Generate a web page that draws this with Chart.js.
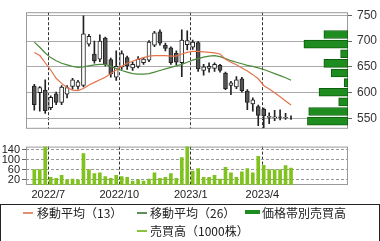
<!DOCTYPE html>
<html>
<head>
<meta charset="utf-8">
<script src="https://cdn.jsdelivr.net/npm/chart.js@4.4.1/dist/chart.umd.min.js"></script>
<style>
  body { margin: 0; background: #fff; }
  #wrap { position: relative; width: 380px; height: 241px; overflow: hidden; background: #fff;
          font-family: "Noto Sans CJK JP", sans-serif; color: #222; }
  canvas { position: absolute; left: 0; }
  #price, #profile { top: 0; }
  #vol { top: 138px; }
  #legend { position: absolute; left: 0; top: 204px; width: 380px; height: 45px;
            border: 1px solid #222; box-sizing: border-box; }
  .key { position: absolute; height: 2px; }
  .txt { position: absolute; font-size: 12px; line-height: 14px; white-space: nowrap; }
</style>
</head>
<body>
<div id="wrap">
  <canvas id="price" width="380" height="141"></canvas>
  <canvas id="profile" width="380" height="141"></canvas>
  <canvas id="vol" width="380" height="66"></canvas>
  <div id="legend"></div>
  <span class="key" style="left:23px;top:212px;width:10px;background:#e2906e"></span>
  <span class="txt" style="left:37px;top:206px">移動平均（13）</span>
  <span class="key" style="left:137px;top:212px;width:10px;background:#5f8f58"></span>
  <span class="txt" style="left:150px;top:206px">移動平均（26）</span>
  <span class="key" style="left:245px;top:210px;width:15px;height:4px;background:#1f8c1f"></span>
  <span class="txt" style="left:262px;top:206px">価格帯別売買高</span>
  <span class="key" style="left:137px;top:230px;width:10px;background:#88c43a"></span>
  <span class="txt" style="left:150px;top:224px">売買高（1000株）</span>
</div>
<script>
// weekly candles, week starting
const weeks = [
  '2022/06/13', '2022/06/20', '2022/06/27', '2022/07/04', '2022/07/11', '2022/07/18', '2022/07/25',
  '2022/08/01', '2022/08/08', '2022/08/15', '2022/08/22', '2022/08/29', '2022/09/05', '2022/09/12',
  '2022/09/19', '2022/09/26', '2022/10/03', '2022/10/10', '2022/10/17', '2022/10/24', '2022/10/31',
  '2022/11/07', '2022/11/14', '2022/11/21', '2022/11/28', '2022/12/05', '2022/12/12', '2022/12/19',
  '2022/12/26', '2023/01/02', '2023/01/09', '2023/01/16', '2023/01/23', '2023/01/30', '2023/02/06',
  '2023/02/13', '2023/02/20', '2023/02/27', '2023/03/06', '2023/03/13', '2023/03/20', '2023/03/27',
  '2023/04/03', '2023/04/10', '2023/04/17', '2023/04/24', '2023/05/01', '2023/05/08'
];
const open  = [613, 600, 605, 571, 598, 581, 597, 612, 612, 614, 694, 675, 665, 706, 664, 630,
               650, 668, 648, 651, 658, 663, 692, 718, 692, 687, 677, 658, 693, 688, 697, 643,
               647, 647, 653, 638, 614, 611, 627, 603, 578, 573, 568, 552, 551, 553, 551, 551];
const high  = [616, 612, 625, 594, 601, 614, 614, 628, 624, 749, 713, 700, 712, 708, 667, 681,
               681, 671, 660, 670, 668, 701, 719, 722, 696, 689, 681, 722, 720, 702, 699, 655,
               658, 658, 655, 640, 622, 631, 630, 606, 590, 576, 570, 561, 566, 567, 560, 555];
const low   = [566, 564, 560, 567, 577, 577, 590, 607, 607, 611, 690, 657, 660, 652, 630, 624,
               645, 645, 643, 648, 655, 660, 689, 692, 681, 655, 654, 631, 683, 684, 641, 634,
               640, 641, 640, 606, 596, 608, 601, 567, 564, 536, 532, 540, 546, 547, 548, 548];
const close = [577, 610, 565, 591, 581, 611, 610, 625, 621, 714, 709, 662, 700, 655, 637, 651,
               676, 652, 655, 665, 665, 698, 716, 696, 686, 658, 659, 702, 701, 698, 646, 650,
               651, 655, 643, 608, 619, 625, 604, 581, 586, 556, 555, 554, 553, 552, 552, 551];
const ma13  = [678, 672, 658, 644, 628, 618, 610, 605, 604, 608, 615, 620, 625, 630, 637, 644,
               651, 657, 661, 665, 668, 671, 672, 672, 672, 671, 671, 675, 678, 680, 680, 679,
               678, 677, 675, 665, 659, 654, 648, 642, 635, 627, 614, 607, 600, 592, 584, 576];
const ma26  = [698, 688, 677, 668, 662, 657, 654, 651, 649, 650, 652, 654, 655, 655, 651, 647,
               643, 640, 637, 636, 636, 637, 640, 643, 646, 649, 652, 655, 659, 663, 666, 669,
               671, 672, 670, 666, 662, 659, 656, 653, 651, 648, 645, 641, 637, 633, 629, 624];
// 売買高（1000株）
const volume = [61, 61, 152, 30, 26, 38, 20, 23, 19, 124, 61, 45, 48, 33, 26, 38,
                33, 30, 16, 20, 16, 23, 48, 26, 30, 45, 26, 109, 153, 55, 65, 30,
                30, 38, 23, 70, 48, 30, 52, 65, 48, 113, 78, 61, 60, 61, 77, 67];
// 価格帯別売買高
const bandPrice  = [711, 694, 677, 660, 643, 626, 609, 592, 575, 558];
const bandVolume = [75, 137, 23, 75, 52, 12, 90, 29, 122, 126];

const priceTicks = [550, 600, 650, 700, 750];
const volumeTicks = [20, 60, 100, 140];
const monthPos = [2.56, 15.57, 28.65, 41.76];
const monthLabels = ['2022/7', '2022/10', '2023/1', '2023/4'];

const X_MIN = -1.52, X_MAX = 57.43;
const P_MIN = 530, P_MAX = 756;

const frame = {
  id: 'frame',
  beforeDatasetsDraw(chart) {
    const {ctx, chartArea: a} = chart;
    ctx.save();
    ctx.strokeStyle = '#999';
    ctx.lineWidth = 1;
    ctx.strokeRect(a.left + 0.5, a.top + 0.5, a.right - a.left - 1, a.bottom - a.top - 1);
    ctx.restore();
  }
};

const monthAxis = {
  type: 'linear',
  min: X_MIN,
  max: X_MAX,
  offset: false,
  afterBuildTicks: s => { s.ticks = monthPos.map(v => ({value: v})); },
  grid: {color: '#333', drawTicks: false, offset: false},
  border: {display: false, dash: [3, 2]}
};

new Chart(document.getElementById('price'), {
  type: 'bar',
  data: {
    datasets: [
      {
        type: 'line',
        data: weeks.map((w, i) => ({x: i, y: ma13[i]})),
        borderColor: '#e2744b',
        borderWidth: 1.2,
        pointRadius: 0,
        order: 1
      },
      {
        type: 'line',
        data: weeks.map((w, i) => ({x: i, y: ma26[i]})),
        borderColor: '#4b8b3b',
        borderWidth: 1.2,
        pointRadius: 0,
        order: 1
      },
      {
        data: weeks.map((w, i) => ({x: i, y: [open[i], close[i]]})),
        backgroundColor: weeks.map((w, i) => close[i] >= open[i] ? '#fff' : '#555'),
        borderColor: '#222',
        borderWidth: 1,
        borderSkipped: false,
        barThickness: 4,
        grouped: false,
        order: 2
      },
      {
        data: weeks.map((w, i) => ({x: i, y: [low[i], high[i]]})),
        backgroundColor: '#222',
        barThickness: 1,
        grouped: false,
        order: 3
      }
    ]
  },
  options: {
    responsive: false,
    animation: false,
    devicePixelRatio: 1,
    layout: {padding: {left: 26, right: 0, top: 9, bottom: 4}},
    plugins: {legend: {display: false}, tooltip: {enabled: false}},
    scales: {
      x: Object.assign({}, monthAxis, {
        ticks: {display: false},
        afterFit: s => { s.height = 0; }
      }),
      y: {
        type: 'linear',
        position: 'right',
        min: P_MIN,
        max: P_MAX,
        afterBuildTicks: s => { s.ticks = priceTicks.map(v => ({value: v})); },
        ticks: {color: '#333', font: {family: 'Liberation Sans', size: 12}, padding: 5, autoSkip: false},
        grid: {color: '#aaa', tickColor: '#666', tickLength: 4},
        border: {display: false},
        afterFit: s => { s.width = 32; }
      }
    }
  },
  plugins: [frame]
});

// price-band volume, overlaid on the same plot area
new Chart(document.getElementById('profile'), {
  type: 'bar',
  data: {
    datasets: [{
      data: bandPrice.map((p, i) => ({x: bandVolume[i], y: p})),
      backgroundColor: '#1f8c1f',
      borderColor: '#0d5e0d',
      borderWidth: 1,
      borderSkipped: false,
      barThickness: 8,
      grouped: false
    }]
  },
  options: {
    indexAxis: 'y',
    responsive: false,
    animation: false,
    devicePixelRatio: 1,
    layout: {padding: {left: 26, right: 32, top: 9, bottom: 4}},
    plugins: {legend: {display: false}, tooltip: {enabled: false}},
    scales: {
      x: {type: 'linear', display: false, reverse: true, min: 0, max: 1000},
      y: {type: 'linear', display: false, offset: false, min: P_MIN, max: P_MAX}
    }
  }
});

new Chart(document.getElementById('vol'), {
  type: 'bar',
  data: {
    datasets: [{
      data: weeks.map((w, i) => ({x: i, y: volume[i]})),
      backgroundColor: '#80c31e',
      barThickness: 3,
      grouped: false
    }]
  },
  options: {
    responsive: false,
    animation: false,
    devicePixelRatio: 1,
    layout: {padding: {left: 0, right: 32, top: 4, bottom: 0}},
    plugins: {legend: {display: false}, tooltip: {enabled: false}},
    scales: {
      x: Object.assign({}, monthAxis, {
        ticks: {
          callback: (v, i) => monthLabels[i],
          autoSkip: false,
          maxRotation: 0,
          color: '#222',
          font: {family: 'Liberation Sans', size: 11},
          padding: 3
        },
        afterFit: s => { s.height = 19; }
      }),
      y: {
        type: 'linear',
        min: 0,
        max: 152,
        afterBuildTicks: s => { s.ticks = volumeTicks.map(v => ({value: v})); },
        ticks: {color: '#222', font: {family: 'Liberation Sans', size: 11}, padding: 2, autoSkip: false},
        grid: {color: '#999', tickColor: '#666', tickLength: 4},
        border: {display: false, dash: [3, 2]},
        afterFit: s => { s.width = 26; }
      }
    }
  },
  plugins: [frame]
});
</script>
</body>
</html>
